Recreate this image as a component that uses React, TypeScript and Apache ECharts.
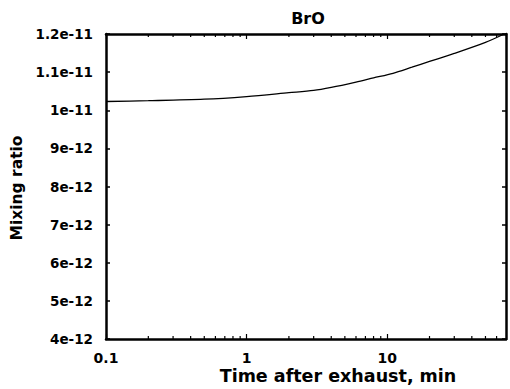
import React, { useEffect, useRef } from "react";
import * as echarts from "echarts";

const timeMin = [0.1, 0.2, 0.5, 1, 2, 3, 4, 6, 8, 11, 15, 20, 30, 50, 68];
const brO = [1.023e-11, 1.025e-11, 1.029e-11, 1.036e-11, 1.046e-11, 1.052e-11, 1.06e-11, 1.074e-11, 1.085e-11, 1.097e-11, 1.113e-11, 1.128e-11, 1.149e-11, 1.178e-11, 1.2e-11];
const minorXTicks = [0.2, 0.3, 0.4, 0.5, 0.6, 0.7, 0.8, 0.9, 2, 3, 4, 5, 6, 7, 8, 9, 20, 30, 40, 50, 60];
const yMin = 4e-12;
const yMax = 1.2e-11;
const yStep = 1e-12;
const xMin = 0.1;
const xMax = 70;

const FONT = "DejaVu Sans";

export default function App() {
  const ref = useRef<HTMLDivElement>(null);
  useEffect(() => {
    if (!ref.current) return;
    const chart = echarts.init(ref.current, null, { renderer: "svg" });
    const lineStyle = { color: "#000", width: 2.5 };
    const fmtY = (v: number) => Number(v.toPrecision(3)).toExponential();
    chart.setOption({
      animation: false,
      backgroundColor: "#fff",
      grid: { left: 106, right: 4, top: 34, bottom: 50, containLabel: false },
      xAxis: [
        {
          type: "log",
          logBase: 10,
          min: xMin,
          max: xMax,
          position: "bottom",
          axisLine: { show: true, lineStyle },
          axisTick: { show: true, inside: true, length: 5, lineStyle: { color: "#000", width: 1.2 } },
          splitLine: { show: false },
          axisLabel: {
            show: true,
            showMaxLabel: false,
            color: "#000",
            fontFamily: FONT,
            fontWeight: "bold",
            fontSize: 14,
            margin: 12,
            formatter: (v: number) => String(Number(v.toPrecision(3))),
          },
        },
        {
          type: "log",
          logBase: 10,
          min: xMin,
          max: xMax,
          position: "top",
          axisLine: { show: true, lineStyle },
          axisTick: { show: true, inside: true, length: 5, lineStyle: { color: "#000", width: 1.2 } },
          splitLine: { show: false },
          axisLabel: { show: false },
        },
      ],
      yAxis: [
        {
          type: "value",
          min: yMin,
          max: yMax,
          interval: yStep,
          position: "left",
          axisLine: { show: true, lineStyle },
          axisTick: { show: true, inside: true, length: 4, lineStyle: { color: "#000", width: 1.5 } },
          splitLine: { show: false },
          axisLabel: {
            color: "#000",
            fontFamily: FONT,
            fontWeight: "bold",
            fontSize: 13.5,
            margin: 13,
            formatter: fmtY,
          },
        },
        {
          type: "value",
          min: yMin,
          max: yMax,
          interval: yStep,
          position: "right",
          axisLine: { show: true, lineStyle },
          axisTick: { show: true, inside: true, length: 4, lineStyle: { color: "#000", width: 1.5 } },
          splitLine: { show: false },
          axisLabel: { show: false },
        },
      ],
      graphic: [
        {
          type: "text",
          x: 308,
          y: 18,
          style: {
            text: "BrO",
            fill: "#000",
            font: `bold 16px "${FONT}"`,
            textAlign: "center",
            textVerticalAlign: "middle",
          },
        },
        {
          type: "text",
          x: 338,
          y: 376,
          style: {
            text: "Time after exhaust, min",
            fill: "#000",
            font: `bold 17.5px "${FONT}"`,
            textAlign: "center",
            textVerticalAlign: "middle",
          },
        },
        {
          type: "text",
          x: 17,
          y: 188,
          rotation: Math.PI / 2,
          style: {
            text: "Mixing ratio",
            fill: "#000",
            font: `bold 15.5px "${FONT}"`,
            textAlign: "center",
            textVerticalAlign: "middle",
          },
        },
      ],
      series: [
        {
          type: "line",
          xAxisIndex: 0,
          yAxisIndex: 0,
          data: timeMin.map((t, i) => [t, brO[i]]),
          smooth: 0.3,
          showSymbol: false,
          symbol: "none",
          lineStyle: { color: "#000", width: 1.3 },
          z: 3,
        },
        {
          type: "custom",
          xAxisIndex: 0,
          yAxisIndex: 0,
          data: minorXTicks.map((v) => [v, yMin]),
          clip: false,
          renderItem: (params: any, api: any) => {
            const v = api.value(0);
            const bottom = api.coord([v, yMin]);
            const top = api.coord([v, yMax]);
            const s = { stroke: "#000", lineWidth: 1.2 };
            return {
              type: "group",
              children: [
                { type: "line", shape: { x1: bottom[0], y1: bottom[1], x2: bottom[0], y2: bottom[1] - 3 }, style: s },
                { type: "line", shape: { x1: top[0], y1: top[1], x2: top[0], y2: top[1] + 3 }, style: s },
              ],
            };
          },
          z: 4,
        },
      ],
    });
    return () => chart.dispose();
  }, []);
  return <div ref={ref} style={{ position: "fixed", left: 0, top: 0, width: 510, height: 389 }} />;
}
